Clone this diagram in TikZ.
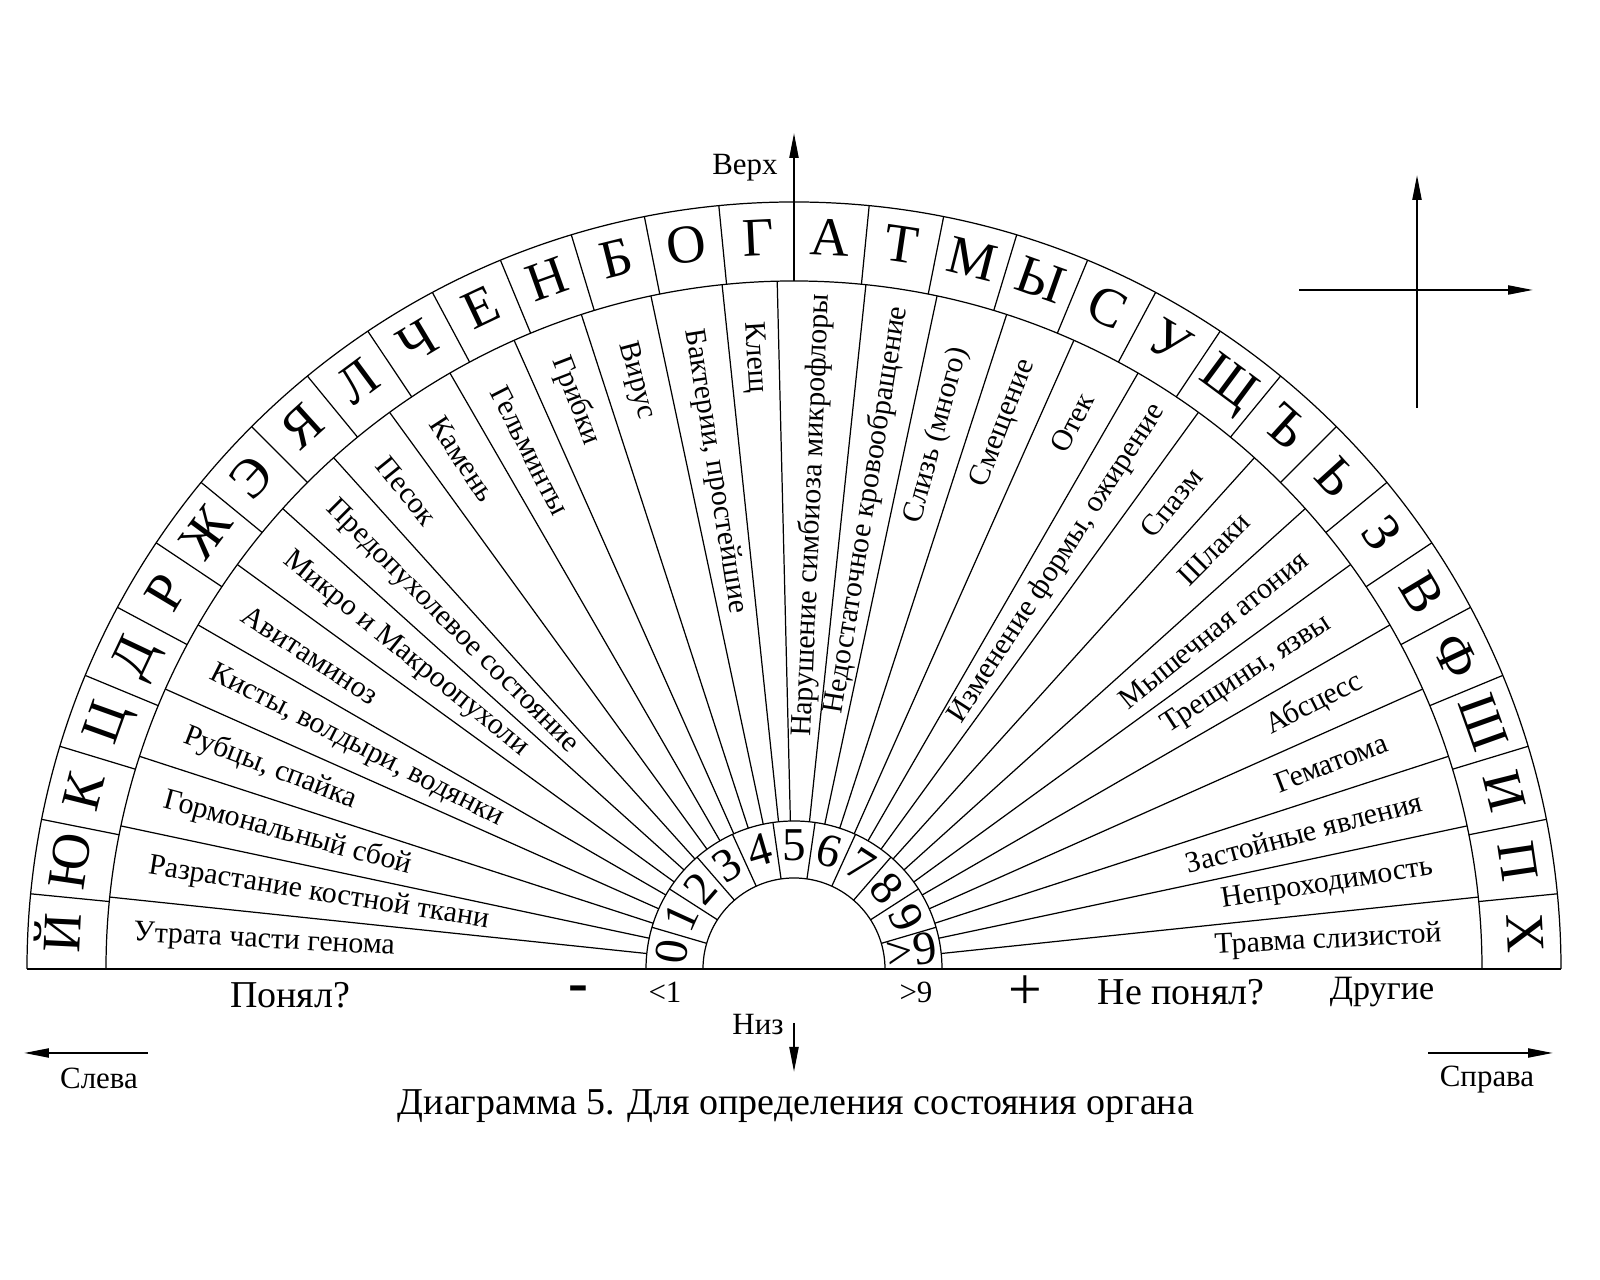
\documentclass[tikz,border=0pt]{standalone}
\usepackage{fontspec}
\setmainfont{Liberation Serif}
\usetikzlibrary{arrows.meta}

\begin{document}
\begin{tikzpicture}[line width=0.35pt,
  ltr/.style={font=\fontsize{15.5}{18}\selectfont,anchor=base,inner sep=0pt},
  dig/.style={font=\fontsize{13.4}{16}\selectfont,anchor=base,inner sep=0pt},
  sect/.style={font=\fontsize{8.5}{10}\selectfont,inner sep=0pt},
  lab/.style={font=\fontsize{8.8}{10}\selectfont,anchor=base,inner sep=0pt},
  big/.style={font=\fontsize{10.8}{13}\selectfont,anchor=base,inner sep=0pt},
  ar/.style={-{Triangle[length=2.5mm,width=0.9mm]},line width=0.6pt}]
\useasboundingbox (-7.94,-3.11) rectangle (8.06,9.69);

% ---------- rings ----------
\draw[line width=0.6pt] (-7.67,0) -- (7.67,0);
\draw (-7.67,0) arc (180:0:7.67);
\draw (-6.88,0) arc (180:0:6.88);
\draw (-1.48,0) arc (180:0:1.48);
\draw (-0.91,0) arc (180:0:0.91);

% ---------- letters: 32 cells ----------
\foreach \k in {1,...,31}
  \draw (180-5.625*\k:6.88) -- (180-5.625*\k:7.67);
\begin{scope}
  \clip (-7.67,0) arc (180:0:7.67) -- cycle;
  \foreach \l [count=\k] in {Й,Ю,К,Ц,Д,Р,Ж,Э,Я,Л,Ч,Е,Н,Б,О,Г,А,Т,М,Ы,С,У,Щ,Ъ,Ь,З,В,Ф,Ш,И,П,Х}
    {\pgfmathsetmacro\a{182.8125-5.625*\k}
     \node[ltr,rotate=\a-90] (l\k) at (\a:7.145) {\l};}
\end{scope}

% ---------- states: 30 sectors ----------
\foreach \a in {6,12,...,84}
  \draw (\a:1.48) -- (\a:6.88);
\foreach \a in {96,102,...,174}
  \draw (\a:1.48) -- (\a:6.88);
\draw (91.4:1.48) -- (91.4:6.88);

% left half reads inwards
\foreach \a/\r/\t [count=\k] in {177/6.62/Утрата части генома,
    171/6.54/Разрастание костной ткани, 165/6.52/Гормональный сбой,
    159/6.53/{Рубцы, спайка}, 153/6.54/{Кисты, волдыри, водянки},
    147/6.55/Авитаминоз, 141/6.54/Микро и Макроопухоли,
    135/6.57/Предопухолевое состояние, 129/6.55/Песок, 123/6.56/Камень,
    117/6.53/Гельминты, 111/6.55/Грибки, 105/6.49/Вирус,
    99/6.48/{Бактерии, простейшие}, 93.7/6.49/Клещ}
  \node[sect,anchor=west,rotate=\a-180] (s\k) at (\a:\r) {\t};
% right half reads outwards
\foreach \a/\r/\t [count=\k from 16] in {87.7/6.76/Нарушение симбиоза микрофлоры,
    81/6.71/Недостаточное кровообращение, 75/6.43/Слизь (много),
    69/6.52/Смещение, 63/6.45/Отек, 57/6.71/{Изменение формы, ожирение},
    51/6.40/Спазм, 45/6.39/Шлаки, 39/6.57/Мышечная атония,
    33/6.38/{Трещины, язвы}, 27/6.37/Абсцесс, 21/6.35/Гематома,
    15/6.50/Застойные явления, 9/6.47/Непроходимость, 3/6.49/Травма слизистой}
  \node[sect,anchor=east,rotate=\a] (s\k) at (\a:\r) {\t};

% ---------- numbers: 11 cells ----------
\foreach \k in {1,...,10}
  \draw (180-180/11*\k:0.91) -- (180-180/11*\k:1.48);
\foreach \d [count=\k] in {0,1,2,3,4,5,6,7,8,9}
  {\pgfmathsetmacro\a{180-180/11*(\k-0.5)}
   \node[dig,rotate=\a-90] (n\k) at (\a:1.08) {\d};}
\node[dig,anchor=center,rotate=8] (n11) at (9:1.19) {>9};

% ---------- axes ----------
\coordinate (upS) at (0,7.67); \coordinate (upE) at (0,8.36);
\draw[ar] (upS) -- (upE);
\node[lab] (verx) at (-0.49,7.94) {Верх};
\coordinate (dnS) at (0,-0.54); \coordinate (dnE) at (0,-1.03);
\draw[ar] (dnS) -- (dnE);
\node[lab] (niz) at (-0.36,-0.66) {Низ};
\coordinate (lfS) at (-6.46,-0.84); \coordinate (lfE) at (-7.70,-0.84);
\draw[ar] (lfS) -- (lfE);
\node[lab] (sleva) at (-6.95,-1.20) {Слева};
\coordinate (rtS) at (6.34,-0.84); \coordinate (rtE) at (7.59,-0.84);
\draw[ar] (rtS) -- (rtE);
\node[lab] (sprava) at (6.93,-1.18) {Справа};

% cross at the top right
\coordinate (cxB) at (6.23,5.61); \coordinate (cxT) at (6.23,7.94);
\coordinate (cxL) at (5.05,6.79); \coordinate (cxR) at (7.39,6.79);
\draw[ar] (cxB) -- (cxT);
\draw[ar] (cxL) -- (cxR);

% ---------- answers under the base ----------
\node[lab] (lt1) at (-1.29,-0.34) {<1};
\node[lab] (gt9) at (1.22,-0.34) {>9};
\node[big] (ponyal) at (-5.04,-0.39) {Понял?};
\node[big] (neponyal) at (3.87,-0.36) {Не понял?};
\node[anchor=base,inner sep=0pt,font=\fontsize{9.7}{12}\selectfont] (drugie) at (5.88,-0.31) {Другие};
\node[anchor=base,inner sep=0pt,font=\fontsize{17}{20}\selectfont\bfseries] (minus) at (-2.16,-0.34) {-};
\node[anchor=base,inner sep=0pt,font=\fontsize{17}{20}\selectfont] (plus) at (2.31,-0.41) {+};

% ---------- caption ----------
\node[big] (capt) at (0.02,-1.46) {Диаграмма 5. Для определения состояния органа};
\end{tikzpicture}
\end{document}
